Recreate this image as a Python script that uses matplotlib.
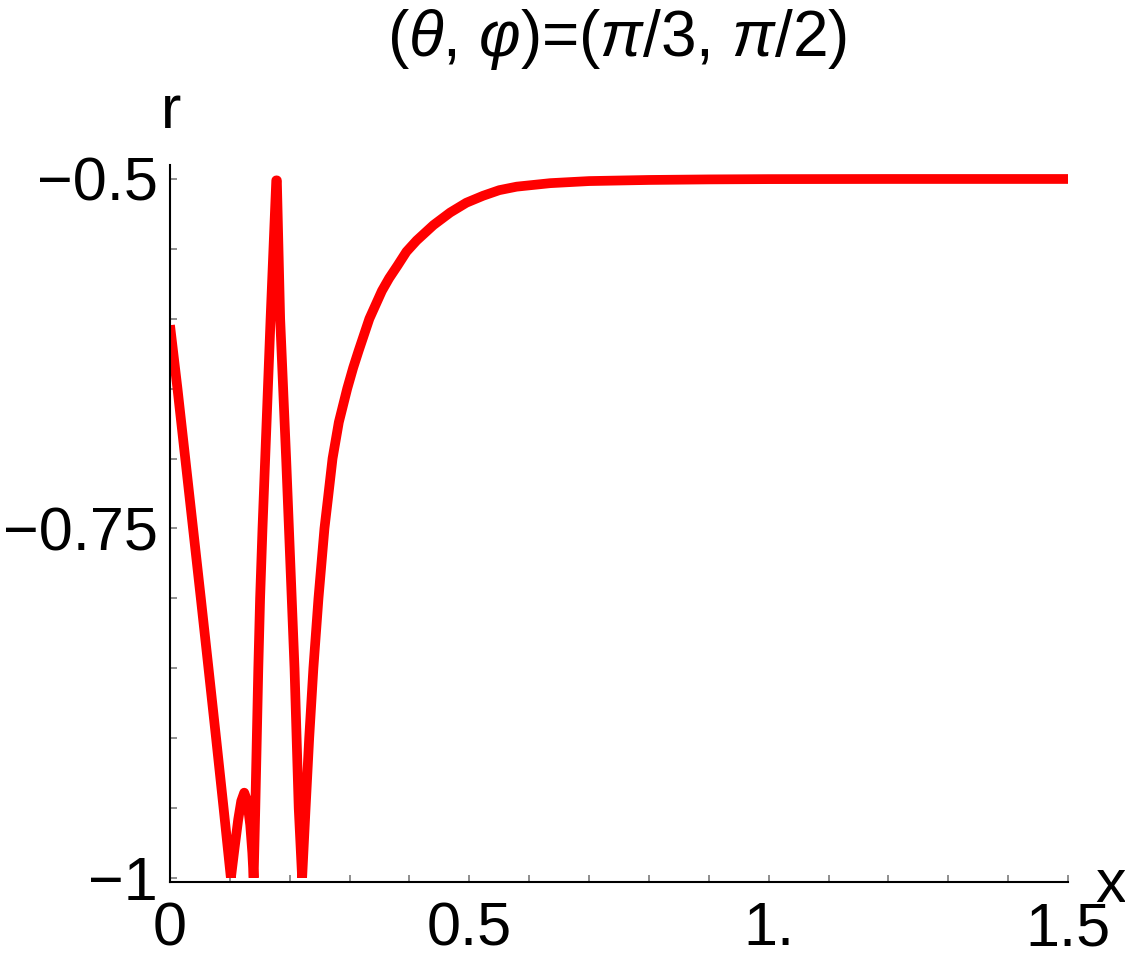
import numpy as np
import matplotlib.pyplot as plt
from matplotlib.patches import Rectangle
from matplotlib.ticker import FixedLocator, MultipleLocator

plt.rcParams['font.family'] = ['Liberation Sans', 'DejaVu Sans']
plt.rcParams['mathtext.fontset'] = 'custom'
plt.rcParams['mathtext.rm'] = 'Liberation Sans'
plt.rcParams['mathtext.it'] = 'Liberation Sans:italic'

# curve
x = [0.0, 0.0125, 0.0255, 0.0385, 0.0515, 0.0643, 0.077, 0.0895, 0.1017,
     0.108, 0.114, 0.119, 0.124, 0.129, 0.134, 0.1375, 0.1397,
     0.1425, 0.145, 0.1475, 0.1505, 0.1545, 0.159, 0.168, 0.1775,
     0.1785, 0.184, 0.194, 0.201, 0.208, 0.215, 0.2207,
     0.2265, 0.2325, 0.2395, 0.248, 0.258, 0.264, 0.2715, 0.282, 0.296, 0.306,
     0.315, 0.333, 0.354, 0.366, 0.38, 0.395, 0.412, 0.44, 0.468, 0.495,
     0.523, 0.55, 0.579, 0.635, 0.7, 0.8, 0.9, 1.0, 1.2, 1.5]
r = [-0.6046, -0.65, -0.70, -0.75, -0.80, -0.85, -0.90, -0.95, -1.0,
     -0.978, -0.958, -0.945, -0.939, -0.945, -0.962, -0.982, -1.0,
     -0.95, -0.90, -0.85, -0.80, -0.75, -0.70, -0.60, -0.501,
     -0.501, -0.60, -0.70, -0.775, -0.85, -0.95, -1.0,
     -0.95, -0.90, -0.85, -0.80, -0.75, -0.728, -0.70, -0.674, -0.65, -0.635,
     -0.623, -0.60, -0.58, -0.571, -0.562, -0.552, -0.544, -0.533, -0.524, -0.517,
     -0.512, -0.508, -0.5055, -0.503, -0.5015, -0.5007, -0.5003, -0.5001, -0.5, -0.5]

xticks = [0, 0.5, 1.0, 1.5]
xlabels = ['0', '0.5', '1.', '1.5']
yticks = [-1, -0.75, -0.5]
ylabels = ['\u22121', '\u22120.75', '\u22120.5']

fig = plt.figure(figsize=(11.25, 9.67), dpi=100)
ax = fig.add_axes([170/1125, 1-882/967, 898/1125, 717/967])

line, = ax.plot(x, r, color='#ff0000', lw=7, solid_joinstyle='round', solid_capstyle='butt')
clip = Rectangle((0, -1), 1.5, 0.51, transform=ax.transData)
line.set_clip_path(clip)

ax.set_xlim(0, 1.5)
ax.set_ylim(-1.0029, -0.49)

ax.spines['top'].set_visible(False)
ax.spines['right'].set_visible(False)
ax.spines['left'].set_linewidth(1.5)
ax.spines['bottom'].set_linewidth(1.5)

ax.xaxis.set_major_locator(FixedLocator(xticks))
ax.set_xticklabels(xlabels)
ax.xaxis.set_minor_locator(MultipleLocator(0.1))
ax.yaxis.set_major_locator(FixedLocator(yticks))
ax.set_yticklabels(ylabels)
ax.yaxis.set_minor_locator(MultipleLocator(0.05))

ax.tick_params(which='both', direction='in', length=5, width=1.1, color='#707070', labelsize=44)
ax.tick_params(axis='x', which='major', pad=14)
ax.tick_params(axis='y', which='major', pad=9)

fig.text(617/1125, 1-56/967, r'($\theta$, $\varphi$)=($\pi$/3, $\pi$/2)', fontsize=46, ha='center', va='baseline')
fig.text(171/1125, 1-128/967, 'r', fontsize=44, ha='center', va='baseline')
fig.text(1095/1125, 1-902/967, 'x', fontsize=44, ha='left', va='baseline')

fig.savefig('out.png', dpi=100)
